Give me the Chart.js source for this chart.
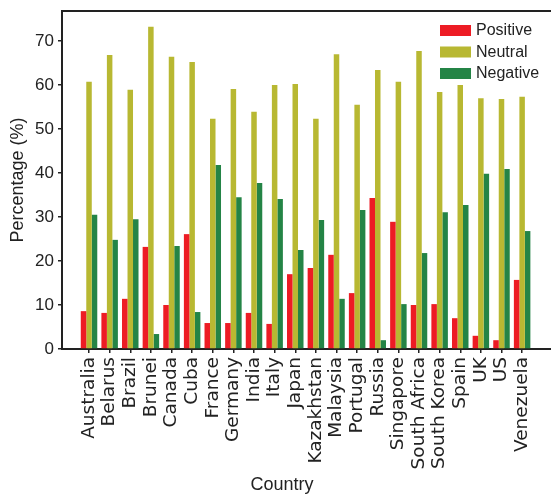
<!DOCTYPE html>
<html>
<head>
<meta charset="utf-8">
<script src="https://cdn.jsdelivr.net/npm/chart.js@4"></script>
<style>
  html, body { margin: 0; padding: 0; background: #fff; }
  canvas { display: block; }
</style>
</head>
<body>
<canvas id="chart" width="551" height="498"></canvas>
<script>
// data
const countries = ["Australia", "Belarus", "Brazil", "Brunei", "Canada", "Cuba", "France", "Germany",
  "India", "Italy", "Japan", "Kazakhstan", "Malaysia", "Portugal", "Russia", "Singapore",
  "South Africa", "South Korea", "Spain", "UK", "US", "Venezuela"];
const positive = [8.6, 8.2, 11.4, 23.2, 10.0, 26.1, 5.9, 5.9, 8.2, 5.7, 17.0, 18.4, 21.4, 12.7, 34.3, 28.9, 10.0, 10.2, 7.0, 3.0, 2.0, 15.7];
const neutral  = [60.7, 66.8, 58.9, 73.2, 66.4, 65.2, 52.3, 59.1, 53.9, 60.0, 60.2, 52.3, 67.0, 55.5, 63.4, 60.7, 67.7, 58.4, 60.0, 57.0, 56.8, 57.3];
const negative = [30.5, 24.8, 29.5, 3.4, 23.4, 8.4, 41.8, 34.5, 37.7, 34.1, 22.5, 29.3, 11.4, 31.6, 2.0, 10.2, 21.8, 31.1, 32.7, 39.8, 40.9, 26.8];
const yTicks = [0, 10, 20, 30, 40, 50, 60, 70];

const FONT = '"Liberation Sans", Arial, sans-serif';
const TICK_FONT = '"DejaVu Sans", Verdana, sans-serif';
const INK = "#222";

const toPoints = (vals) => vals.map((v, i) => ({ x: i, y: v }));

// top frame line, legend and x title
const extras = {
  id: "extras",
  afterDraw(chart) {
    const { ctx, chartArea } = chart;
    ctx.save();
    ctx.strokeStyle = INK;
    ctx.lineWidth = 2;
    ctx.beginPath();
    ctx.moveTo(chartArea.left - 1, chartArea.top);
    ctx.lineTo(chartArea.right, chartArea.top);
    ctx.stroke();

    ctx.font = "16px " + FONT;
    ctx.textBaseline = "middle";
    ctx.textAlign = "left";
    chart.data.datasets.forEach((ds, i) => {
      const y = 25 + i * 21.5;
      ctx.fillStyle = ds.backgroundColor;
      ctx.fillRect(440, y, 31, 11);
      ctx.fillStyle = INK;
      ctx.fillText(ds.label, 476, y + 6);
    });

    ctx.font = "18px " + FONT;
    ctx.textAlign = "center";
    ctx.fillText("Country", 282, 485);
    ctx.restore();
  }
};

new Chart(document.getElementById("chart"), {
  type: "bar",
  data: {
    datasets: [
      { label: "Positive", data: toPoints(positive), backgroundColor: "#ed1c24" },
      { label: "Neutral",  data: toPoints(neutral),  backgroundColor: "#b8b832" },
      { label: "Negative", data: toPoints(negative), backgroundColor: "#248446" }
    ]
  },
  options: {
    responsive: false,
    animation: false,
    layout: { autoPadding: false, padding: { top: 11, left: 0, right: 0, bottom: 0 } },
    datasets: { bar: { categoryPercentage: 0.8, barPercentage: 1.0, borderWidth: 0 } },
    plugins: { legend: { display: false }, tooltip: { enabled: false } },
    scales: {
      x: {
        type: "linear",
        bounds: "data",
        min: -1.31,
        max: 22.4,
        offset: false,
        afterBuildTicks: (s) => { s.ticks = countries.map((c, i) => ({ value: i })); },
        afterFit: (s) => { s.height = 149; s.paddingLeft = 0; s.paddingRight = 0; },
        border: { display: true, color: INK, width: 2 },
        grid: { offset: false, drawOnChartArea: false, drawTicks: true, tickLength: 4, color: INK, lineWidth: 1.5 },
        ticks: {
          autoSkip: false,
          maxRotation: 90,
          minRotation: 90,
          padding: 4,
          color: INK,
          font: { family: TICK_FONT, size: 18.5 },
          callback: (v) => countries[v]
        }
      },
      y: {
        min: 0,
        max: 76.8,
        bounds: "data",
        afterBuildTicks: (s) => { s.ticks = yTicks.map((v) => ({ value: v })); },
        afterFit: (s) => { s.width = 62; s.paddingTop = 0; s.paddingBottom = 0; },
        border: { display: true, color: INK, width: 2 },
        grid: { drawOnChartArea: false, drawTicks: true, tickLength: 4, color: INK, lineWidth: 1.5 },
        ticks: { stepSize: 10, padding: 4, color: INK, font: { family: FONT, size: 17 } },
        title: {
          display: true,
          text: "Percentage (%)",
          color: INK,
          padding: { top: 7, bottom: 0 },
          font: { family: FONT, size: 18 }
        }
      }
    }
  },
  plugins: [extras]
});
</script>
</body>
</html>
